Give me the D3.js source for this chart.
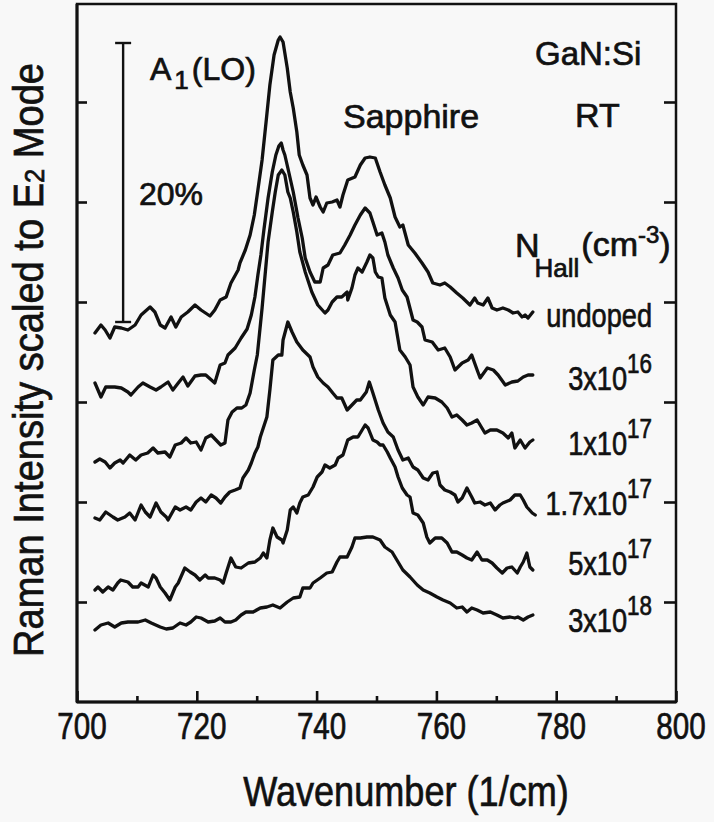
<!DOCTYPE html>
<html><head><meta charset="utf-8">
<script src="https://cdn.jsdelivr.net/npm/d3@7"></script>
<style>
html,body{margin:0;padding:0;background:#f8f8f8;}
svg{display:block;}
text{font-family:"Liberation Sans", Arial, Helvetica, sans-serif; fill:#111; stroke:#111; stroke-width:0.7px;}
</style></head><body>
<svg id="chart" width="714" height="822"></svg>
<script>
// ---- axis ticks ----
const xTickValues = [700, 720, 740, 760, 780, 800];
const xMinorTicks = [710, 730, 750, 770, 790];
const yTickValues = [1, 2, 3, 4, 5, 6];

// ---- spectra: [wavenumber (1/cm), intensity (arb. units, offset)] ----
const undoped = [[703.0,3.69],[704.0,3.77],[704.7,3.72],[705.5,3.64],[706.3,3.75],[707.4,3.74],[708.5,3.72],[709.7,3.77],[710.7,3.87],[712.2,3.95],[713.0,3.90],[713.9,3.77],[714.7,3.74],[715.7,3.85],[716.5,3.75],[717.4,3.85],[718.5,3.90],[719.7,3.97],[720.7,3.92],[722.2,3.86],[723.0,3.92],[723.9,4.02],[724.9,4.05],[725.7,4.19],[726.9,4.32],[727.2,4.39],[728.1,4.52],[728.9,4.67],[729.6,4.87],[730.2,5.12],[730.9,5.42],[731.6,5.82],[732.2,6.17],[732.9,6.47],[733.6,6.62],[733.9,6.65],[734.4,6.60],[735.1,6.34],[735.6,6.10],[736.1,5.94],[736.7,5.70],[737.1,5.47],[737.7,5.37],[738.4,5.27],[738.9,5.04],[739.4,4.97],[739.9,5.05],[740.6,4.95],[741.1,4.90],[741.7,4.99],[742.6,5.00],[743.4,5.02],[743.9,4.95],[744.4,5.07],[745.2,5.22],[746.4,5.25],[747.3,5.37],[748.1,5.44],[748.9,5.45],[749.8,5.44],[750.6,5.30],[751.4,5.17],[752.3,5.04],[753.1,4.85],[753.9,4.75],[754.4,4.77],[755.3,4.57],[756.4,4.49],[757.6,4.39],[758.6,4.30],[759.4,4.19],[760.6,4.17],[761.4,4.19],[762.3,4.15],[763.4,4.09],[764.4,4.04],[765.6,3.97],[766.4,4.04],[766.9,3.99],[767.8,3.97],[768.6,4.04],[769.3,3.94],[770.1,3.92],[771.1,3.94],[772.0,3.92],[772.8,3.89],[773.6,3.90],[774.3,3.85],[774.8,3.87],[775.3,3.84],[776.1,3.90]];

const n3e16 = [[703.0,3.19],[704.0,3.05],[704.8,3.15],[706.3,3.15],[707.4,3.14],[708.5,3.10],[709.0,3.07],[710.2,3.15],[711.0,3.19],[712.2,3.15],[713.2,3.12],[714.0,3.15],[715.2,3.20],[716.0,3.12],[716.9,3.19],[717.7,3.25],[718.5,3.16],[719.7,3.26],[720.7,3.27],[721.5,3.27],[723.0,3.19],[723.9,3.37],[724.7,3.39],[725.2,3.47],[726.4,3.54],[727.4,3.64],[728.4,3.73],[729.1,3.87],[729.7,4.05],[730.2,4.27],[730.7,4.47],[731.2,4.72],[731.9,5.04],[732.6,5.30],[733.2,5.47],[733.7,5.56],[734.1,5.59],[734.4,5.52],[734.7,5.47],[735.2,5.34],[736.1,5.10],[736.9,4.84],[737.6,4.64],[738.1,4.44],[738.9,4.30],[739.7,4.20],[740.6,4.20],[741.1,4.34],[741.9,4.37],[742.7,4.47],[743.9,4.49],[744.7,4.57],[745.6,4.67],[746.4,4.77],[747.3,4.87],[748.1,4.94],[748.9,4.89],[749.4,4.80],[750.1,4.67],[750.9,4.69],[751.4,4.60],[751.9,4.47],[752.8,4.34],[753.6,4.24],[754.3,4.12],[755.1,4.05],[756.1,3.82],[756.8,3.80],[757.6,3.75],[758.1,3.62],[759.3,3.60],[760.3,3.52],[761.4,3.54],[762.3,3.45],[763.1,3.32],[764.3,3.39],[765.3,3.42],[765.9,3.47],[766.8,3.32],[767.3,3.24],[768.5,3.34],[769.5,3.32],[770.3,3.27],[771.5,3.17],[772.6,3.20],[773.6,3.21],[774.5,3.25],[775.3,3.27],[776.1,3.27]];

const n1e17 = [[703.0,2.40],[703.8,2.43],[704.7,2.40],[705.5,2.34],[706.3,2.39],[707.2,2.42],[707.7,2.39],[708.8,2.47],[709.8,2.42],[710.7,2.47],[711.8,2.49],[712.7,2.54],[713.5,2.49],[714.7,2.50],[715.5,2.45],[716.4,2.57],[717.4,2.59],[718.2,2.64],[719.0,2.59],[719.9,2.60],[720.7,2.52],[721.5,2.64],[722.4,2.67],[723.2,2.62],[724.0,2.57],[724.7,2.59],[725.2,2.82],[725.9,2.90],[726.7,2.94],[727.5,2.94],[728.2,2.97],[728.9,3.09],[729.6,3.32],[730.1,3.47],[730.9,3.94],[731.4,4.27],[731.9,4.60],[732.6,4.90],[733.1,5.10],[733.6,5.27],[734.2,5.32],[734.7,5.27],[735.2,5.10],[735.6,5.04],[736.1,4.90],[736.7,4.70],[737.2,4.50],[738.1,4.30],[739.2,4.10],[740.2,3.97],[741.4,3.89],[741.9,3.92],[742.6,4.00],[743.4,4.05],[744.2,4.05],[745.1,4.10],[745.2,4.02],[745.9,4.14],[746.4,4.27],[746.9,4.34],[747.6,4.30],[748.4,4.40],[748.9,4.47],[749.4,4.44],[749.8,4.30],[750.3,4.25],[750.9,4.24],[751.4,4.04],[752.3,3.87],[753.1,3.80],[753.9,3.52],[754.8,3.45],[755.6,3.37],[756.1,3.15],[756.9,3.05],[757.8,2.97],[758.6,3.05],[759.8,3.04],[760.9,3.00],[761.8,2.94],[762.6,2.85],[763.4,2.87],[764.3,2.82],[765.1,2.77],[765.9,2.79],[766.8,2.82],[767.6,2.74],[768.1,2.69],[769.0,2.72],[770.1,2.72],[771.1,2.69],[772.0,2.64],[772.6,2.69],[773.1,2.54],[774.0,2.62],[774.8,2.54],[775.6,2.60],[776.1,2.62]];

const n17e17 = [[703.0,1.84],[703.8,1.82],[704.8,1.90],[706.0,1.85],[706.8,1.82],[708.0,1.85],[708.8,1.89],[709.7,1.82],[710.7,1.97],[711.4,1.90],[712.2,1.85],[713.2,1.99],[714.0,1.90],[714.9,1.85],[715.2,1.82],[716.4,1.95],[717.2,1.92],[718.2,1.95],[719.0,1.92],[719.9,2.00],[720.7,2.04],[721.5,2.00],[722.4,2.07],[723.2,2.04],[724.0,1.99],[724.7,2.05],[725.5,2.10],[726.4,2.12],[727.2,2.14],[727.7,2.24],[728.6,2.32],[729.1,2.39],[729.7,2.49],[730.2,2.55],[730.6,2.65],[731.7,2.85],[732.2,3.12],[732.7,3.42],[733.6,3.47],[734.2,3.47],[734.4,3.62],[735.2,3.80],[735.9,3.70],[736.7,3.60],[737.7,3.52],[738.9,3.45],[739.4,3.35],[740.2,3.25],[741.1,3.19],[741.9,3.15],[742.7,3.09],[743.4,3.04],[744.2,3.04],[745.1,2.92],[745.9,2.97],[746.7,3.02],[747.3,3.02],[748.3,3.10],[748.8,3.20],[749.4,3.09],[750.3,2.92],[751.1,2.79],[751.9,2.70],[752.8,2.65],[753.6,2.52],[754.4,2.42],[755.3,2.44],[756.1,2.35],[756.9,2.32],[757.8,2.24],[758.6,2.22],[759.4,2.29],[760.1,2.30],[760.6,2.17],[761.4,2.12],[762.3,2.10],[763.1,2.07],[763.6,2.00],[764.3,2.04],[765.1,2.14],[765.9,2.05],[766.4,1.99],[767.3,2.00],[768.1,1.97],[769.0,1.99],[769.8,1.92],[770.6,1.97],[771.1,1.99],[772.3,2.02],[773.1,2.07],[774.0,2.07],[774.5,2.02],[775.1,1.95],[776.0,1.89],[776.5,1.87]];

const n5e17 = [[703.0,1.12],[703.5,1.15],[704.3,1.10],[705.2,1.15],[706.0,1.12],[706.8,1.19],[707.3,1.22],[708.5,1.20],[709.3,1.15],[710.2,1.15],[710.7,1.19],[711.9,1.15],[712.7,1.27],[713.2,1.24],[713.9,1.15],[714.7,1.09],[715.5,1.02],[716.4,1.15],[716.9,1.19],[718.0,1.34],[718.9,1.30],[719.7,1.27],[720.5,1.22],[721.4,1.27],[721.9,1.24],[723.0,1.24],[723.9,1.22],[724.4,1.19],[724.9,1.29],[725.7,1.44],[726.5,1.35],[727.4,1.34],[728.6,1.39],[729.7,1.40],[730.6,1.44],[731.1,1.49],[731.7,1.44],[732.2,1.62],[732.7,1.74],[733.4,1.65],[734.2,1.62],[734.4,1.59],[735.1,1.72],[735.6,1.92],[736.1,1.95],[736.7,1.89],[737.2,1.99],[737.7,2.05],[738.6,2.07],[739.4,2.15],[740.1,2.25],[740.9,2.30],[741.4,2.37],[742.2,2.34],[743.1,2.37],[743.6,2.44],[744.4,2.47],[745.2,2.62],[746.1,2.65],[746.9,2.65],[747.6,2.72],[748.1,2.77],[748.6,2.74],[749.4,2.62],[750.1,2.60],[750.6,2.57],[751.1,2.57],[751.8,2.50],[752.3,2.44],[753.1,2.35],[753.6,2.25],[754.3,2.14],[755.1,2.07],[755.6,2.05],[756.1,1.89],[756.9,1.87],[757.8,1.79],[758.4,1.65],[758.9,1.59],[759.8,1.64],[760.9,1.64],[761.8,1.59],[762.6,1.50],[763.4,1.50],[764.3,1.47],[765.1,1.44],[765.9,1.42],[766.8,1.50],[767.6,1.42],[768.5,1.42],[769.3,1.39],[770.1,1.34],[771.0,1.29],[771.8,1.34],[772.6,1.35],[773.5,1.29],[774.0,1.35],[774.5,1.40],[775.1,1.49],[775.6,1.35],[776.1,1.32]];

const n3e18 = [[703.0,0.72],[704.0,0.77],[705.2,0.79],[706.3,0.75],[707.4,0.79],[708.5,0.80],[710.2,0.80],[711.4,0.82],[712.4,0.79],[713.9,0.75],[714.9,0.73],[716.0,0.74],[717.2,0.79],[718.2,0.77],[719.0,0.80],[719.9,0.85],[720.7,0.84],[721.9,0.80],[723.0,0.81],[723.9,0.84],[724.7,0.80],[725.7,0.80],[726.5,0.82],[727.4,0.87],[728.2,0.90],[729.4,0.90],[730.6,0.94],[731.7,0.95],[732.7,0.97],[733.9,0.94],[735.1,1.00],[736.1,1.04],[737.2,1.05],[737.7,1.14],[738.9,1.14],[739.4,1.19],[740.6,1.24],[741.7,1.29],[742.6,1.30],[743.4,1.40],[743.9,1.45],[745.1,1.45],[745.9,1.55],[746.4,1.64],[747.3,1.64],[748.4,1.65],[749.4,1.65],[750.6,1.62],[751.4,1.55],[752.6,1.50],[753.4,1.42],[754.4,1.32],[755.6,1.25],[756.8,1.17],[757.8,1.12],[758.9,1.09],[760.1,1.05],[761.1,1.02],[762.3,0.99],[763.4,0.94],[764.3,0.95],[765.1,0.90],[765.9,0.94],[766.8,0.92],[767.8,0.89],[769.0,0.90],[770.1,0.87],[771.1,0.84],[772.3,0.85],[773.1,0.84],[773.6,0.85],[774.5,0.82],[775.3,0.85],[776.1,0.87]];

// ---- series labels (N_Hall) ----
const labelBase = ["undoped", "3x10", "1x10", "1.7x10", "5x10", "3x10"];
const labelExp  = ["", "16", "17", "17", "17", "18"];
const labelY    = [3.75, 3.12, 2.47, 1.87, 1.27, 0.70];

// ---- 20% scale bar ----
const scaleBarX = 707.7, scaleBarFrom = 3.80, scaleBarSpan = 2.79;

// ================= drawing =================
const W = 714, H = 822;
const svg = d3.select("#chart");
svg.append("rect").attr("width", W).attr("height", H).attr("fill", "#f8f8f8");

const x = d3.scaleLinear().domain([700, 800]).range([77, 676]);
const y = d3.scaleLinear().domain([0, 6.98]).range([702, 4]);
const ink = "#111";

// frame
svg.append("rect").attr("x", x(700)).attr("y", y(6.98)).attr("width", x(800) - x(700)).attr("height", y(0) - y(6.98))
  .attr("fill", "none").attr("stroke", ink).attr("stroke-width", 2.5);
svg.append("line").attr("x1", x(700)).attr("x2", x(700)).attr("y1", y(6.98)).attr("y2", y(0)).attr("stroke", ink).attr("stroke-width", 3);
svg.append("line").attr("x1", x(700)).attr("x2", x(800)).attr("y1", y(0)).attr("y2", y(0)).attr("stroke", ink).attr("stroke-width", 3.2);

function styleAxis(g) {
  g.select(".domain").remove();
  g.selectAll(".tick line").attr("stroke", ink).attr("stroke-width", 2.6);
}
svg.append("g").attr("transform", `translate(0,${y(0)})`)
  .call(d3.axisBottom(x).tickValues(xTickValues).tickSize(-11).tickFormat("")).call(styleAxis);
svg.append("g").attr("transform", `translate(0,${y(0)})`)
  .call(d3.axisBottom(x).tickValues(xMinorTicks).tickSize(-6).tickFormat("")).call(styleAxis);
svg.append("g").attr("transform", `translate(${x(700)},0)`)
  .call(d3.axisLeft(y).tickValues(yTickValues).tickSize(-10).tickFormat("")).call(styleAxis);
svg.append("g").attr("transform", `translate(${x(800)},0)`)
  .call(d3.axisRight(y).tickValues(yTickValues).tickSize(-12).tickFormat("")).call(styleAxis);

// tick labels (condensed)
svg.append("g").selectAll("text").data(xTickValues).join("text")
  .attr("transform", d => `translate(${x(d) + 5},739) scale(0.8,1)`)
  .attr("text-anchor", "middle").attr("font-size", 37).text(d => d);

// axis titles
svg.append("text").attr("transform", "translate(406,806) scale(0.84,1)")
  .attr("text-anchor", "middle").attr("font-size", 43).text("Wavenumber (1/cm)");
const yt = svg.append("text").attr("transform", "translate(43,360) rotate(-90) scale(0.907,1)")
  .attr("text-anchor", "middle").attr("font-size", 42);
yt.append("tspan").text("Raman Intensity scaled to E");
yt.append("tspan").attr("font-size", 28).attr("dy", 1).text("2");
yt.append("tspan").attr("dy", -1).text(" Mode");

// spectra
const line = d3.line().x(d => x(d[0])).y(d => y(d[1]));
const series = [undoped, n3e16, n1e17, n17e17, n5e17, n3e18];
svg.append("g").selectAll("path").data(series).join("path")
  .attr("d", line).attr("fill", "none").attr("stroke", ink)
  .attr("stroke-width", 3.3).attr("stroke-linejoin", "round").attr("stroke-linecap", "round");

// scale bar
const sb = svg.append("g").attr("stroke", ink).attr("stroke-width", 2.4);
const sbx = x(scaleBarX);
sb.append("line").attr("x1", sbx).attr("x2", sbx).attr("y1", y(scaleBarFrom)).attr("y2", y(scaleBarFrom + scaleBarSpan));
sb.append("line").attr("x1", sbx - 8).attr("x2", sbx + 8).attr("y1", y(scaleBarFrom)).attr("y2", y(scaleBarFrom));
sb.append("line").attr("x1", sbx - 8).attr("x2", sbx + 8).attr("y1", y(scaleBarFrom + scaleBarSpan)).attr("y2", y(scaleBarFrom + scaleBarSpan));
svg.append("text").attr("x", 139).attr("y", 205).attr("font-size", 32).text("20%");

// annotations
const a1 = svg.append("text").attr("x", 150).attr("y", 80).attr("font-size", 32);
a1.append("tspan").text("A");
a1.append("tspan").attr("font-size", 26).attr("dy", 9).attr("dx", 3).text("1");
a1.append("tspan").attr("dy", -9).attr("dx", 3).text("(LO)");
svg.append("text").attr("x", 343).attr("y", 128).attr("font-size", 34).text("Sapphire");
svg.append("text").attr("x", 535).attr("y", 65).attr("font-size", 33).text("GaN:Si");
svg.append("text").attr("x", 575).attr("y", 127).attr("font-size", 34).text("RT");

const nh = svg.append("text").attr("x", 515).attr("y", 257).attr("font-size", 34);
nh.append("tspan").text("N");
nh.append("tspan").attr("font-size", 26).attr("dy", 20).attr("dx", -5).text("Hall");
nh.append("tspan").attr("dy", -21).attr("dx", 2).text("(cm");
nh.append("tspan").attr("font-size", 24).attr("dy", -13).text("-3");
nh.append("tspan").attr("dy", 13).text(")");

// series labels (condensed)
const lg = svg.append("g").selectAll("text").data(labelBase).join("text")
  .attr("transform", (d, i) => `translate(652,${y(labelY[i])}) scale(0.8,1)`)
  .attr("text-anchor", "end").attr("font-size", 34);
lg.append("tspan").text(d => d);
lg.append("tspan").attr("font-size", 28).attr("dy", -17).text((d, i) => labelExp[i]);
</script>
</body></html>
